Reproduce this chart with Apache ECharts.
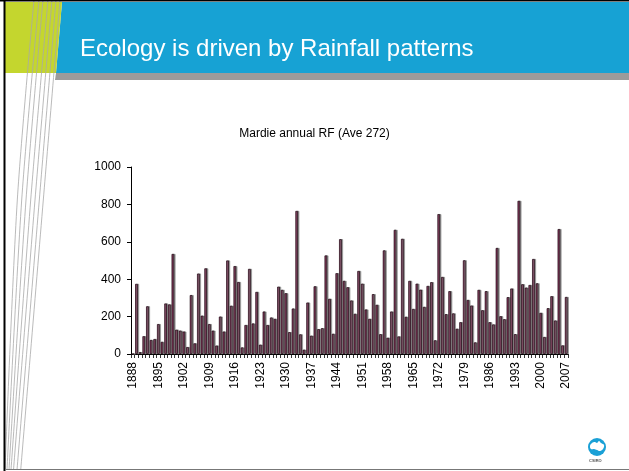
<!DOCTYPE html>
<html>
<head>
<meta charset="utf-8">
<script src="https://cdn.jsdelivr.net/npm/echarts@6/dist/echarts.min.js"></script>
<style>
html,body{margin:0;padding:0;background:#fff;}
#c{width:629px;height:471px;}
</style>
</head>
<body>
<div id="c"></div>
<script>
var years = [];
for (var y = 1888; y <= 2007; y++) years.push(String(y));

var rainfall = [
  0,
  375, 10, 95, 255, 75, 80, 160, 65, 270, 265, 535, 130, 125, 120, 37, 315, 57, 430, 205, 458,
  160, 125, 45, 200, 120, 500, 258, 470, 385,
  35, 155, 455, 163, 332, 50, 227, 155, 195, 188, 360, 343, 325, 117, 243, 765, 105, 23, 275, 98,
  362, 133, 138, 527, 295, 108, 432, 614, 391, 357,
  286, 215, 444, 376, 238, 188, 320, 263, 106, 554, 87, 227, 664, 94, 616, 199, 391, 241, 376, 344,
  252, 364, 384, 73, 748, 412, 213, 336, 217, 135,
  170, 501, 289, 259, 62, 343, 234, 336, 170, 158, 567, 202, 186, 304, 350, 106, 819, 373, 355, 369,
  508, 378, 220, 91, 245, 309, 179, 668, 46, 305
];

var slideTitle = 'Ecology is driven by Rainfall patterns';
var chartTitle = 'Mardie annual RF (Ave 272)';

var lineTops = [34, 39, 43, 48, 52, 56, 60];
var lineMids = [17.3, 21.7, 26, 30.7, 35, 39.3, 43.3];
var lineBots = [5, 7, 9, 11, 13.5, 17, 20.7];

var deco = [];
deco.push({type:'rect', shape:{x:0,y:0,width:629,height:471}, style:{fill:'#fff'}, z:-10, silent:true});
deco.push({type:'polygon', shape:{points:[[62,2],[629,2],[629,73],[56,73]]}, style:{fill:'#17a2d4'}, z:-5, silent:true});
deco.push({type:'polygon', shape:{points:[[5,2],[62,2],[56,73],[5,73]]}, style:{fill:'#c4d62e'}, z:-5, silent:true});
deco.push({type:'polygon', shape:{points:[[56,73],[629,73],[629,80],[55,80]]}, style:{fill:'#9b9b9b'}, z:-5, silent:true});
for (var i = 0; i < lineTops.length; i++) {
  deco.push({type:'polyline', shape:{points:[[lineTops[i],0],[lineMids[i],200],[lineBots[i],470]], smooth:0.3},
    style:{stroke:'#a8a8a8', lineWidth:0.8, fill:null}, z:-4, silent:true});
}
deco.push({type:'rect', shape:{x:3.5,y:0,width:2,height:471}, style:{fill:'#000'}, z:-3, silent:true});
deco.push({type:'rect', shape:{x:0,y:0,width:629,height:1.5}, style:{fill:'#000'}, z:-3, silent:true});
deco.push({type:'line', shape:{x1:5,y1:469.5,x2:629,y2:469.5}, style:{stroke:'#777',lineWidth:1}, z:-3, silent:true});
deco.push({type:'text', left:80, top:37, style:{text:slideTitle, fill:'#fff', font:'24px "Liberation Sans", Arial, sans-serif'}, z:5});
// CSIRO logo
deco.push({type:'circle', shape:{cx:597,cy:447,r:9}, style:{fill:'#1aa0d6'}, z:5, silent:true});
deco.push({type:'polygon', shape:{points:[[590,446],[592,443],[595,442],[597,443],[599,441],[601,443],[604,445],[603,449],[600,451],[597,450],[594,449],[591,449]], smooth:0.4}, style:{fill:'#fff'}, z:6, silent:true});
deco.push({type:'text', left:589, top:459, style:{text:'CSIRO', fill:'#555', font:'bold 4px "Liberation Sans", Arial'}, z:6, silent:true});

var chart = echarts.init(document.getElementById('c'), null, {renderer:'canvas'});
chart.setOption({
  animation:false,
  backgroundColor:'transparent',
  title:{text:chartTitle, left:'center', top:123, textStyle:{fontFamily:'"Liberation Sans", Arial, sans-serif', fontSize:12, fontWeight:'normal', color:'#000'}},
  grid:{left:131, right:61, top:167, bottom:117, containLabel:false},
  xAxis:{
    type:'category', data:years, boundaryGap:true,
    axisLine:{lineStyle:{color:'#000', width:1}},
    axisTick:{show:true, interval:0, length:4, lineStyle:{color:'#000', width:0.8}},
    axisLabel:{interval:6, rotate:90, margin:8, color:'#000', fontFamily:'"Liberation Sans", Arial, sans-serif', fontSize:12}
  },
  yAxis:{
    type:'value', min:0, max:1000, interval:200,
    axisLine:{show:true, lineStyle:{color:'#000', width:1}},
    axisTick:{show:true, length:4, lineStyle:{color:'#000'}},
    splitLine:{show:false},
    axisLabel:{margin:10, color:'#000', fontFamily:'"Liberation Sans", Arial, sans-serif', fontSize:12,
      formatter:function(v){return String(v);}}
  },
  series:[{
    type:'bar', data:rainfall, barWidth:2.6,
    itemStyle:{color:'#7b1f4a', borderColor:'#1c0a12', borderWidth:0.7, shadowColor:'#8a8a8a', shadowOffsetX:1.3, shadowOffsetY:0, shadowBlur:0}
  }],
  graphic:deco
});
</script>
</body>
</html>
